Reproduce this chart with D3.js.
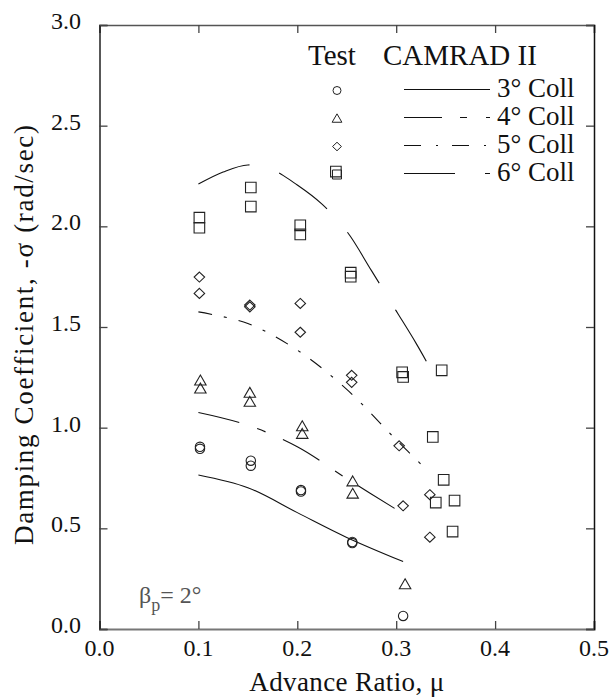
<!DOCTYPE html>
<html>
<head>
<meta charset="utf-8">
<script src="https://cdn.jsdelivr.net/npm/d3@7"></script>
<style>
  html, body { margin: 0; padding: 0; background: #fff; }
  svg { display: block; }
</style>
</head>
<body>
<svg id="chart" width="610" height="698"></svg>
<script>
// Axis ticks
const xTicks = [0.0, 0.1, 0.2, 0.3, 0.4, 0.5];
const yTicks = [0.0, 0.5, 1.0, 1.5, 2.0, 2.5, 3.0];

// Test data: advance ratio and damping, one pair of arrays per collective
const test3Mu  = [0.1016, 0.1016, 0.153, 0.153, 0.2037, 0.2037, 0.2556, 0.2556, 0.307];
const test3Sig = [0.905, 0.895, 0.836, 0.811, 0.690, 0.683, 0.432, 0.427, 0.065];

const test4Mu  = [0.102, 0.102, 0.152, 0.152, 0.205, 0.205, 0.256, 0.256, 0.309];
const test4Sig = [1.234, 1.194, 1.173, 1.128, 1.007, 0.969, 0.733, 0.672, 0.222];

const test5Mu  = [0.101, 0.101, 0.152, 0.152, 0.203, 0.203, 0.255, 0.255, 0.303, 0.307, 0.334, 0.334];
const test5Sig = [1.748, 1.667, 1.609, 1.600, 1.617, 1.474, 1.260, 1.225, 0.910, 0.612, 0.667, 0.456];

const test6Mu  = [0.101, 0.101, 0.153, 0.153, 0.203, 0.203, 0.239, 0.254, 0.254, 0.306, 0.307, 0.346, 0.337, 0.348, 0.340, 0.359, 0.357];
const test6Sig = [2.043, 1.993, 2.193, 2.098, 2.005, 1.960, 2.272, 1.770, 1.750, 1.275, 1.252, 1.285, 0.954, 0.741, 0.628, 0.638, 0.484];

// CAMRAD II predictions
const cam3Mu  = [0.10, 0.15, 0.20, 0.25, 0.307];
const cam3Sig = [0.765, 0.702, 0.578, 0.455, 0.335];

const cam4Mu  = [0.10, 0.15, 0.20, 0.25, 0.306];
const cam4Sig = [1.075, 1.012, 0.905, 0.747, 0.576];

const cam5Mu  = [0.10, 0.15, 0.20, 0.25, 0.30, 0.333];
const cam5Sig = [1.575, 1.517, 1.385, 1.190, 0.940, 0.780];

const cam6Mu  = [0.10, 0.125, 0.15, 0.175, 0.20, 0.225, 0.25, 0.275, 0.30, 0.32, 0.339];
const cam6Sig = [2.210, 2.270, 2.305, 2.280, 2.205, 2.110, 1.975, 1.780, 1.580, 1.420, 1.255];

const legendLabels = ["3° Coll", "4° Coll", "5° Coll", "6° Coll"];

const FONT = "'Liberation Serif', 'DejaVu Serif', serif";

const svg = d3.select("#chart")
  .attr("font-family", FONT);
const plotL = 99.5, plotR = 594, plotT = 25, plotB = 629;

const x = d3.scaleLinear().domain([0, 0.5]).range([plotL, plotR]);
const y = d3.scaleLinear().domain([0, 3]).range([plotB, plotT]);

// Frame with inward ticks on all four sides
const tickLen = 8;
const gAxes = svg.append("g");

gAxes.append("g").attr("transform", `translate(0,${plotB})`)
  .call(d3.axisBottom(x).tickValues(xTicks).tickSize(-tickLen).tickFormat(""))
  .call(g => g.select(".domain").attr("stroke", "#777").attr("stroke-width", 2));
gAxes.append("g").attr("transform", `translate(0,${plotT})`)
  .call(d3.axisTop(x).tickValues(xTicks).tickSize(-tickLen).tickFormat(""))
  .call(g => g.select(".domain").attr("stroke", "#555").attr("stroke-width", 1.5));
gAxes.append("g").attr("transform", `translate(${plotL},0)`)
  .call(d3.axisLeft(y).tickValues(yTicks).tickSize(-tickLen).tickFormat(""))
  .call(g => g.select(".domain").attr("stroke", "#222").attr("stroke-width", 1.5));
gAxes.append("g").attr("transform", `translate(${plotR},0)`)
  .call(d3.axisRight(y).tickValues(yTicks).tickSize(-tickLen).tickFormat(""))
  .call(g => g.select(".domain").attr("stroke", "#111").attr("stroke-width", 1.5));
gAxes.selectAll(".tick line").attr("stroke", "#444").attr("stroke-width", 1.3);

// Helper so every label carries the serif face explicitly
function label(sel) {
  return sel.attr("font-family", FONT).style("font-family", FONT).attr("fill", "#111");
}

// Tick labels
svg.append("g").selectAll("text").data(xTicks).join("text")
  .call(label)
  .attr("x", d => x(d)).attr("y", 656)
  .attr("text-anchor", "middle").attr("font-size", 24)
  .text(d => d.toFixed(1));
svg.append("g").selectAll("text").data(yTicks).join("text")
  .call(label)
  .attr("x", 81).attr("y", d => y(d) + 4)
  .attr("text-anchor", "end").attr("font-size", 24)
  .text(d => d.toFixed(1));

// Axis titles
svg.append("text").call(label)
  .attr("x", (plotL + plotR) / 2).attr("y", 691)
  .attr("text-anchor", "middle").attr("font-size", 27)
  .attr("textLength", 195).attr("lengthAdjust", "spacing")
  .text("Advance Ratio, μ");
svg.append("text").call(label)
  .attr("transform", `translate(33,${(plotT + plotB) / 2 + 8}) rotate(-90)`)
  .attr("text-anchor", "middle").attr("font-size", 27)
  .attr("textLength", 420).attr("lengthAdjust", "spacing")
  .text("Damping Coefficient, -σ (rad/sec)");

// Marker shapes (open symbols)
const shapes = {
  circle: r => `M${r},0A${r},${r} 0 1,1 ${-r},0A${r},${r} 0 1,1 ${r},0Z`,
  triangle: r => `M0,${-r * 1.05}L${r * 1.1},${r * 0.85}L${-r * 1.1},${r * 0.85}Z`,
  diamond: r => `M0,${-r}L${r * 1.05},0L0,${r}L${-r * 1.05},0Z`,
  square: r => `M${-r},${-r}H${r}V${r}H${-r}Z`
};

const series = [
  { mu: test3Mu, sig: test3Sig, shape: "circle", size: 4.7, cMu: cam3Mu, cSig: cam3Sig, dash: null, lDash: null },
  { mu: test4Mu, sig: test4Sig, shape: "triangle", size: 5.2, cMu: cam4Mu, cSig: cam4Sig, dash: "42,19,9,19", lDash: "38,18,7,19" },
  { mu: test5Mu, sig: test5Sig, shape: "diamond", size: 5, cMu: cam5Mu, cSig: cam5Sig, dash: "14,12,3,12", lDash: "17,15,2,14" },
  { mu: test6Mu, sig: test6Sig, shape: "square", size: 5.3, cMu: cam6Mu, cSig: cam6Sig, dash: "55,31,5,0", lDash: "51,30,5,0" }
];

const line = d3.line().curve(d3.curveCatmullRom.alpha(0.5))
  .x(d => x(d[0])).y(d => y(d[1]));

const gData = svg.append("g");
series.forEach(s => {
  const pts = s.cMu.map((m, i) => [m, s.cSig[i]]);
  gData.append("path")
    .attr("d", line(pts))
    .attr("fill", "none").attr("stroke", "#111").attr("stroke-width", 1.1)
    .attr("stroke-dasharray", s.dash);
  gData.append("g").selectAll("path")
    .data(s.mu.map((m, i) => [m, s.sig[i]]))
    .join("path")
    .attr("transform", d => `translate(${x(d[0])},${y(d[1])})`)
    .attr("d", shapes[s.shape](s.size))
    .attr("fill", "none").attr("stroke", "#222").attr("stroke-width", 1.1);
});

// Legend
const legend = svg.append("g");
legend.append("text").call(label).attr("x", 308).attr("y", 65).attr("font-size", 29).text("Test");
legend.append("text").call(label).attr("x", 383).attr("y", 65).attr("font-size", 29).text("CAMRAD II");
const rowY = [89.5, 117.5, 145.5, 173.5];
series.forEach((s, i) => {
  legend.append("path")
    .attr("transform", `translate(337,${rowY[i] + 1})`)
    .attr("d", shapes[s.shape](s.size * 0.85))
    .attr("fill", "none").attr("stroke", "#222").attr("stroke-width", 1);
  legend.append("line")
    .attr("x1", 404).attr("x2", 490).attr("y1", rowY[i]).attr("y2", rowY[i])
    .attr("stroke", "#111").attr("stroke-width", 1.1)
    .attr("stroke-dasharray", s.lDash);
  legend.append("text").call(label).attr("x", 497).attr("y", rowY[i] + 7.5)
    .attr("font-size", 27).text(legendLabels[i]);
});

// Pitch-flap coupling annotation
const ann = svg.append("text").call(label).attr("x", 139).attr("y", 603)
  .attr("font-size", 24).attr("fill", "#555");
ann.append("tspan").text("β");
ann.append("tspan").attr("font-size", 18).attr("dy", 8).text("p");
ann.append("tspan").attr("dy", -8).text("= 2°");
</script>
</body>
</html>
